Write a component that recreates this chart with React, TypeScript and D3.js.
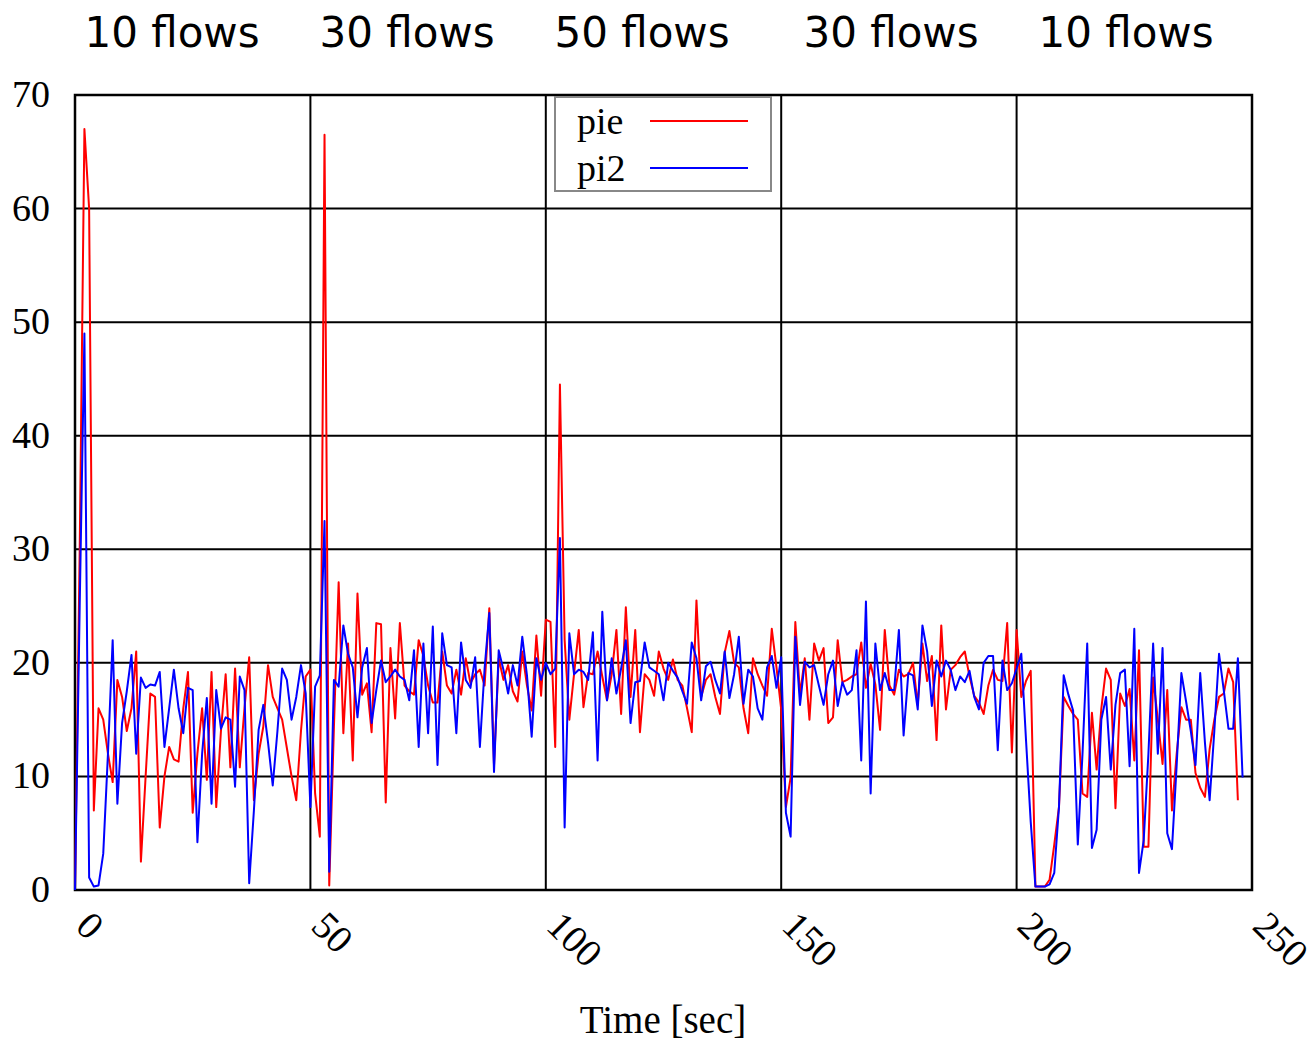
import React from "react";
import * as d3 from "d3";

const pieValues: number[] = [
  0, 30, 67, 60, 7, 16, 15, 12, 9.5, 18.5, 17, 14, 16, 21, 2.5, 10, 17.3, 17, 5.5, 10,
  12.6, 11.5, 11.3, 16, 19.2, 6.8, 12, 16, 9.7, 19.2, 7.3, 14, 19, 10.8, 19.5, 10.8, 16, 20.5, 7.9, 12,
  14.4, 19.8, 17, 16, 15, 12.5, 10, 7.9, 14, 18.8, 19.4, 8.5, 4.7, 66.5, 0.4, 14.4, 27.1, 13.8, 21.7, 11.4,
  26.1, 17.2, 18.2, 13.9, 23.5, 23.4, 7.7, 21.3, 15.1, 23.5, 18, 17.5, 17.2, 22, 20.6, 18, 16.5, 16.5, 21, 18,
  17.3, 19.4, 17.2, 20.4, 18.2, 19, 19.4, 18, 24.8, 11, 20.4, 18.5, 19.8, 17.5, 16.6, 21, 18, 15.8, 22.4, 17.1,
  23.8, 23.6, 12.6, 44.5, 22, 15, 19, 22.9, 16.1, 19.1, 19, 21, 18.8, 16.7, 19, 22.9, 15.5, 24.9, 17, 22.9,
  13.9, 19, 18.5, 17.1, 21, 19.5, 18.5, 20.3, 18.5, 18, 16, 13.9, 25.5, 17, 18.5, 19, 17, 15.5, 20.9, 22.8,
  20, 19.6, 16, 13.8, 20.4, 19, 18, 17.1, 23, 19.6, 15.9, 7.3, 9.9, 23.6, 17.2, 20.4, 15, 21.7, 20.2, 21.3,
  14.7, 15.2, 22, 18.3, 18.5, 18.8, 19, 21.8, 17.8, 19.9, 18.1, 14.1, 22.9, 18, 17.2, 19.4, 18.8, 19, 20, 16.3,
  21.7, 18.4, 20.6, 13.2, 23.3, 15.9, 19.4, 19.8, 20.5, 21, 18.8, 17.1, 16.5, 15.5, 18, 19.4, 18.5, 18.4, 23.5, 12.1,
  22.9, 17, 18.4, 19.3, 0.3, 0.3, 0.3, 0.9, 4, 7.3, 17, 16.2, 15.5, 15, 8.5, 8.2, 15.6, 10.6, 16, 19.5,
  18.5, 7.2, 17.3, 16.2, 17.7, 11.4, 21.1, 3.8, 3.8, 18.7, 15, 11.1, 17.6, 7, 12, 16.1, 15, 15, 10.3, 9,
  8.2, 12.4, 15, 17, 17.3, 19.5, 18.3, 7.9,
];

const pi2Values: number[] = [
  0, 25, 49, 1.1, 0.3, 0.4, 3.2, 12, 22, 7.6, 14.7, 17.5, 20.7, 12, 18.7, 17.8, 18.1, 18, 19.2, 12.6,
  16, 19.4, 16, 13.8, 17.8, 17.6, 4.2, 12, 16.9, 7.6, 17.6, 14.2, 15.2, 15, 9.1, 18.8, 17.6, 0.6, 7, 14.1,
  16.3, 13, 9.2, 14, 19.5, 18.5, 15, 17, 19.8, 17.3, 7.3, 17.9, 18.9, 32.5, 1.6, 18.5, 17.9, 23.3, 20.8, 19.6,
  15.2, 19.6, 21.3, 14.7, 17.6, 20.2, 18.3, 18.8, 19.4, 18.8, 18.5, 16.7, 21.1, 12.6, 21.7, 13.8, 23.2, 11, 22.6, 19.8,
  19.6, 13.8, 21.8, 18.5, 17.8, 20.5, 12.6, 19.5, 24.4, 10.4, 21.1, 19.4, 17.3, 19.8, 18, 22.3, 18.9, 13.5, 20.4, 18.5,
  20, 19, 19.5, 31, 5.5, 22.6, 19, 19.4, 19.2, 18.5, 22.7, 11.4, 24.5, 16.7, 20.4, 17.3, 19.5, 22, 14.7, 18.3,
  18.4, 21.8, 19.6, 19.3, 19, 16.7, 20, 19.3, 18.7, 17.5, 16.4, 21.8, 20.4, 16.7, 19.7, 20.1, 18.5, 17.3, 21, 16.9,
  19, 22.3, 16.4, 19.4, 18.8, 16, 15, 19.6, 20.6, 17.8, 20.5, 6.8, 4.7, 22.3, 16.3, 20.1, 19.6, 19.8, 18, 16.3,
  19, 20.2, 16.2, 18.3, 17.2, 17.6, 21.1, 11.4, 25.4, 8.5, 21.7, 17.6, 19.1, 17.6, 17.6, 22.9, 13.6, 19.1, 18.9, 15.9,
  23.3, 21, 16.2, 20.2, 18.8, 20.2, 19.4, 17.6, 18.8, 18.3, 19.3, 17, 15.9, 20, 20.6, 20.6, 12.3, 20.2, 17.6, 18.2,
  19.5, 20.8, 13.2, 6, 0.3, 0.3, 0.3, 0.5, 1.5, 7.3, 18.9, 17.2, 15.8, 4, 12, 21.7, 3.7, 5.3, 15, 17,
  10.6, 16.3, 19.1, 19.4, 10.9, 23, 1.5, 4.4, 12, 21.7, 12, 21.3, 5, 3.6, 11, 19.1, 16.6, 14, 11, 19.1,
  13, 7.9, 14, 20.8, 17.6, 14.2, 14.2, 20.4, 9.9,
];

const xTicks: number[] = [0, 50, 100, 150, 200, 250];
const yTicks: number[] = [0, 10, 20, 30, 40, 50, 60, 70];
const phaseLabels: string[] = ["10 flows", "30 flows", "50 flows", "30 flows", "10 flows"];
const phaseCenters: number[] = [172, 407, 642, 891, 1126];
const seriesNames: string[] = ["pie", "pi2"];
const seriesColors: string[] = ["#ff0000", "#0000ff"];

const W = 1311;
const H = 1040;
const left = 75;
const right = 1252;
const top = 95;
const bottom = 890;

export default function App() {
  const x = d3.scaleLinear().domain([0, 250]).range([left, right]);
  const y = d3.scaleLinear().domain([0, 70]).range([bottom, top]);
  const line = d3
    .line<number>()
    .x((_, i) => x(i))
    .y((d) => y(d));
  const series = [pieValues, pi2Values];
  const serif = "'Liberation Serif', 'Times New Roman', serif";

  return (
    <svg
      width={W}
      height={H}
      style={{ position: "absolute", left: 0, top: 0, background: "#fff" }}
    >
      <rect x={0} y={0} width={W} height={H} fill="#fff" />
      {phaseLabels.map((t, i) => (
        <text
          key={"p" + i}
          x={phaseCenters[i]}
          y={47}
          textAnchor="middle"
          fontFamily="'DejaVu Sans', Verdana, sans-serif"
          fontSize={42}
          fill="#000"
        >
          {t}
        </text>
      ))}
      {yTicks.map((t) => (
        <line key={"gy" + t} x1={left} x2={right} y1={y(t)} y2={y(t)} stroke="#000" strokeWidth={2} />
      ))}
      {xTicks.map((t) => (
        <line key={"gx" + t} x1={x(t)} x2={x(t)} y1={top} y2={bottom} stroke="#000" strokeWidth={2} />
      ))}
      <rect x={left} y={top} width={right - left} height={bottom - top} fill="none" stroke="#000" strokeWidth={2.5} />
      {series.map((s, i) => (
        <path
          key={"s" + i}
          d={line(s) || ""}
          fill="none"
          stroke={seriesColors[i]}
          strokeWidth={2}
          strokeLinejoin="round"
        />
      ))}
      {yTicks.map((t) => (
        <text
          key={"ty" + t}
          x={50}
          y={y(t) + 12}
          textAnchor="end"
          fontFamily={serif}
          fontSize={38}
          fill="#000"
        >
          {t}
        </text>
      ))}
      {xTicks.map((t) => (
        <text
          key={"tx" + t}
          transform={`translate(${x(t) - 1},${928}) rotate(45)`}
          textAnchor="start"
          fontFamily={serif}
          fontSize={39}
          fill="#000"
        >
          {t}
        </text>
      ))}
      <text x={663} y={1033} textAnchor="middle" fontFamily={serif} fontSize={39} fill="#000">
        Time [sec]
      </text>
      <g>
        <rect x={555} y={97} width={216} height={94} fill="#fff" stroke="#888" strokeWidth={2} />
        {seriesNames.map((n, i) => (
          <g key={"l" + i}>
            <text x={577} y={134 + i * 47} fontFamily={serif} fontSize={38} fill="#000">
              {n}
            </text>
            <line x1={650} x2={748} y1={121 + i * 47} y2={121 + i * 47} stroke={seriesColors[i]} strokeWidth={2} />
          </g>
        ))}
      </g>
    </svg>
  );
}
